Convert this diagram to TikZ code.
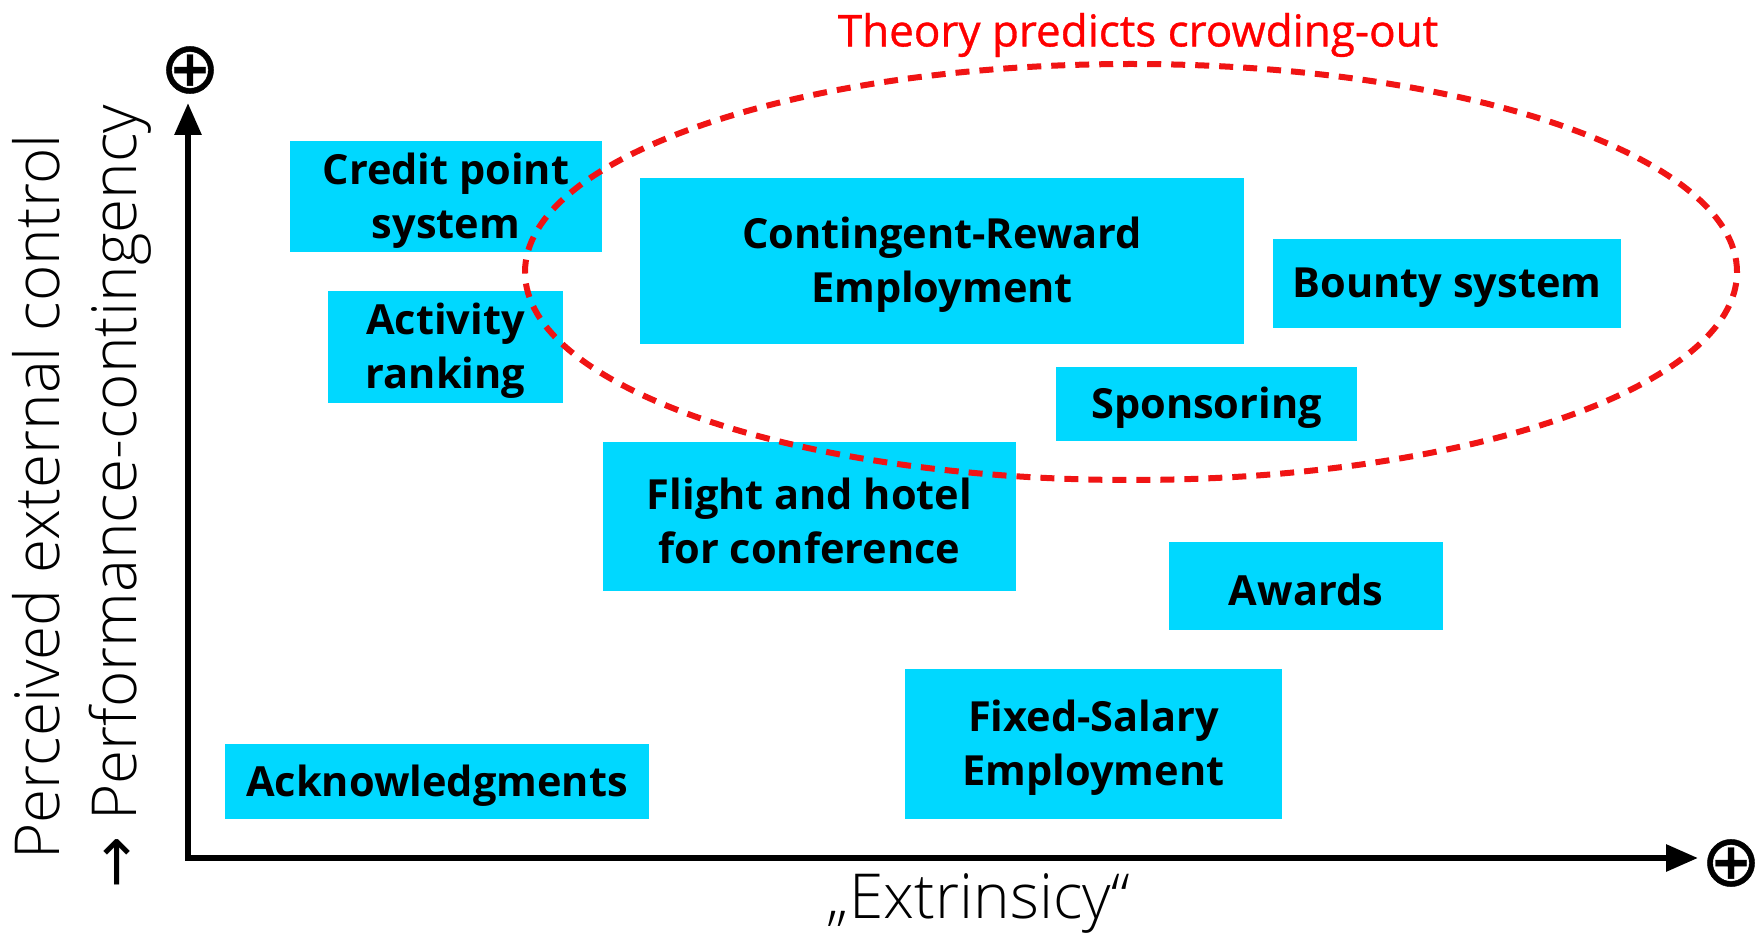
\documentclass[tikz,border=0pt]{standalone}
\usepackage{fontspec}
\setmainfont{Open Sans}
\newfontfamily\lightfont{Open Sans Light}
\newfontfamily\titlefont[FakeBold=0.8]{Open Sans}
\newfontfamily\symfont{DejaVu Sans}
\newfontfamily\plusfont[FakeBold=0.6]{DejaVu Sans}
\usetikzlibrary{arrows.meta}
\definecolor{boxcyan}{RGB}{0,216,255}
\definecolor{ovalred}{RGB}{240,20,20}
\begin{document}
\begin{tikzpicture}[x=1pt,y=-1pt,
  itembox/.style={fill=boxcyan, inner sep=0pt},
  itemtext/.style={inner sep=0pt, align=center, yshift=-4pt,
    font=\fontsize{41.5}{54}\selectfont\bfseries},
  axisline/.style={line width=6pt, line join=miter,
    {Triangle[length=32pt,width=26pt]}-{Triangle[length=32pt,width=26pt]}},
  axislabel/.style={font=\fontsize{62}{77}\selectfont\lightfont, align=center, inner sep=0pt},
  plus/.style={font=\fontsize{72}{72}\selectfont\plusfont, inner sep=0pt},
  oval/.style={draw=ovalred, line width=6pt, dash pattern=on 14pt off 10pt}]
\useasboundingbox (0,0) rectangle (1763,941);

% category boxes
\node[itembox, minimum width=312pt, minimum height=111pt] (cps) at (446,196.5) {};
\node[itembox, minimum width=235pt, minimum height=112pt] (act) at (445.5,347) {};
\node[itembox, minimum width=604pt, minimum height=166pt] (cre) at (942,261) {};
\node[itembox, minimum width=348pt, minimum height=89pt] (bou) at (1447,283.5) {};
\node[itembox, minimum width=301pt, minimum height=74pt] (spo) at (1206.5,404) {};
\node[itembox, minimum width=413pt, minimum height=149pt] (fli) at (809.5,516.5) {};
\node[itembox, minimum width=274pt, minimum height=88pt] (awa) at (1306,586) {};
\node[itembox, minimum width=377pt, minimum height=150pt] (fix) at (1093.5,744) {};
\node[itembox, minimum width=424pt, minimum height=75pt] (ack) at (437,781.5) {};

% their labels
\node[itemtext] (cpst) at (cps) {Credit point\\system};
\node[itemtext] (actt) at (act) {Activity\\ranking};
\node[itemtext] (cret) at (cre) {Contingent-Reward\\Employment};
\node[itemtext] (bout) at (bou) {Bounty system};
\node[itemtext] (spot) at (spo) {Sponsoring};
\node[itemtext] (flit) at (fli) {Flight and hotel\\for conference};
\node[itemtext] (awat) at (awa) {Awards};
\node[itemtext] (fixt) at (fix) {Fixed-Salary\\Employment};
\node[itemtext] (ackt) at (ack) {Acknowledgments};

% crowding-out region
\draw[oval] (1131,272) ellipse [x radius=606pt, y radius=208pt];
\node[text=red, inner sep=0pt, font=\fontsize{44}{44}\selectfont\titlefont] (title) at (1138,35) {Theory predicts crowding-out};

% axes
\coordinate (origin) at (188,858);
\coordinate (ytip) at (188,103);
\coordinate (xtip) at (1698,858);
\draw[axisline] (ytip) -- (origin) -- (xtip);
\node[plus] (yplus) at (190,70) {⊕};
\node[plus] (xplus) at (1731,863) {⊕};

\node[axislabel] (xlabel) at (978,903) {„Extrinsicy“};
\node[axislabel, rotate=90] (ylabel) at (82,497) {Perceived external control\\{\symfont →} Performance-contingency};
\end{tikzpicture}
\end{document}
